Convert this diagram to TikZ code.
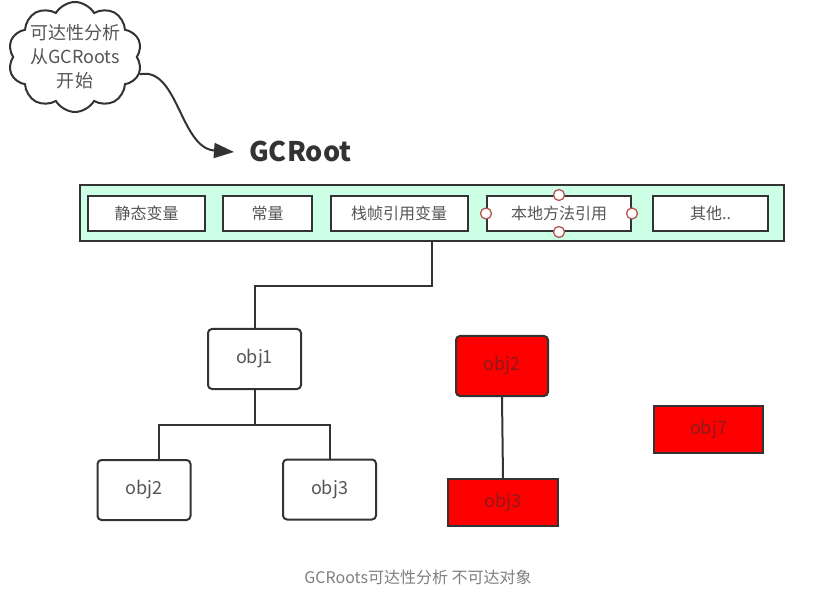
\documentclass[tikz,border=0pt]{standalone}
\usepackage{fontspec}
\setmainfont{Noto Sans CJK SC}
\usetikzlibrary{shapes.symbols,arrows.meta}
\definecolor{ln}{HTML}{333333}
\definecolor{tx}{HTML}{555555}
\definecolor{mint}{HTML}{CCFFE6}
\definecolor{dred}{HTML}{8B1A1A}
\definecolor{hdl}{HTML}{B85450}
\definecolor{cap}{HTML}{7F7F7F}
\tikzset{
  wire/.style={draw=ln, line width=2pt},
  rootbox/.style={draw=ln, line width=2pt, fill=white, minimum height=35pt, inner sep=0pt,
    font=\fontsize{16}{18}\selectfont, text=tx},
  objbox/.style={draw=ln, line width=2pt, fill=white, rounded corners=4pt, minimum width=93pt,
    minimum height=60pt, inner sep=0pt, font=\fontsize{18}{20}\selectfont, text=tx},
  redbox/.style={draw=ln, line width=2pt, fill=red, inner sep=0pt,
    font=\fontsize{18}{20}\selectfont, text=dred},
  handle/.style={circle, draw=hdl, fill=white, line width=1.3pt, minimum size=11pt, inner sep=0pt},
}
\begin{document}
\begin{tikzpicture}[x=1pt,y=-1pt]
\useasboundingbox (0,0) rectangle (819,593);
% cloud
\node[cloud, draw=ln, line width=2pt, fill=white, cloud puffs=10, cloud puff arc=120,
  minimum width=134pt, minimum height=110pt, inner sep=0pt, aspect=1.2]
  (cloud) at (75,57) {};
\node[font=\fontsize{18}{24}\selectfont, text=tx, align=center, inner sep=0pt]
  (cloudtext) at (cloud.center) {可达性分析\\从GCRoots\\开始};
\node[font=\bfseries\fontsize{27}{30}\selectfont, text=ln, anchor=west, inner sep=0pt]
  (gcroot) at (249,151) {GCRoot};
\coordinate (tip) at (234,152);
\draw[ln, line width=2pt, -{Triangle[length=20pt,width=15pt]}]
  (cloud.-15) .. controls (178,66) and (180,148) .. (tip);
% root band
\node[draw=ln, line width=2pt, fill=mint, minimum width=704pt, minimum height=56pt, inner sep=0pt]
  (outer) at (432,213) {};
\node[rootbox, minimum width=117pt] (b1) at (146.5,213.5) {静态变量};
\node[rootbox, minimum width=89pt] (b2) at (267.5,213.5) {常量};
\node[rootbox, minimum width=137pt] (b3) at (399,213.5) {栈帧引用变量};
\node[rootbox, minimum width=144pt] (b4) at (559,213.5) {本地方法引用};
\node[rootbox, minimum width=115pt] (b5) at (710.5,213.5) {其他..};
\node[handle] (h1) at (b4.west) {};
\node[handle] (h2) at (b4.east) {};
\node[handle] (h3) at (b4.north) {};
\node[handle] (h4) at (b4.south) {};
% reachable objects
\node[objbox] (o1) at (254.5,359) {obj1};
\node[objbox] (o2) at (144,490) {obj2};
\node[objbox] (o3) at (329.5,489.5) {obj3};
\draw[wire] (outer.south) -- ++(0,44) -| (o1.north);
\draw[wire] (o1.south) -- ++(0,35) -| ([xshift=15pt]o2.north);
\draw[wire] (o1.south) -- ++(0,35) -| (o3.north);
% unreachable objects
\node[redbox, rounded corners=4pt, minimum width=92pt, minimum height=60pt] (r2) at (502,366) {obj2};
\node[redbox, minimum width=110pt, minimum height=47pt] (r3) at (503,502.5) {obj3};
\node[redbox, minimum width=109pt, minimum height=47pt] (r7) at (708.5,429.5) {obj7};
\draw[wire] (r2.south) -- (r3.north);
% caption
\node[font=\fontsize{16}{18}\selectfont, text=cap, inner sep=0pt] (caption) at (418,577) {GCRoots可达性分析 不可达对象};
\end{tikzpicture}
\end{document}
